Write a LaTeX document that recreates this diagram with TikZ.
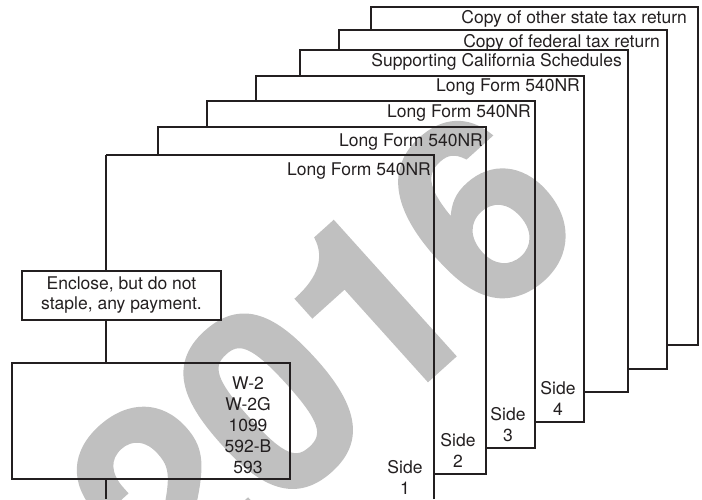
\documentclass[tikz,border=0pt]{standalone}
\usepackage{fontspec}
\setmainfont{TeX Gyre Heros}
\newfontfamily\wmfont[FakeBold=1.2]{TeX Gyre Heros}
\definecolor{ink}{RGB}{35,31,32}
\definecolor{wmgray}{RGB}{192,192,192}
\begin{document}
\begin{tikzpicture}[x=1pt,y=-1pt,
  edge/.style={draw=ink,line width=1.1pt},
  lbl/.style={font=\fontsize{17.5}{21}\selectfont, text=ink, inner sep=0pt},
  title/.style={lbl, anchor=base east},
  sidelbl/.style={lbl, align=center},
  boxnode/.style={draw=ink, line width=1.1pt, inner sep=0pt}
  ]
\useasboundingbox (0,0) rectangle (702,499);
% watermark
\node[rotate=42, text=wmgray, font=\wmfont\fontsize{255}{255}\bfseries\selectfont, inner sep=0pt] (wm) at (322,353) {2016};
% stacked sheets (back to front)
\draw[edge] (371,30) -- (371,7) -- (698,7) -- (698,345) -- (667,345);
\draw[edge] (339,50) -- (339,30) -- (667,30) -- (667,369) -- (628,369);
\draw[edge] (300,76) -- (300,50) -- (628,50) -- (628,392) -- (584,392);
\draw[edge] (256,101) -- (256,76) -- (584,76) -- (584,422) -- (535,422);
\draw[edge] (207,127) -- (207,101) -- (535,101) -- (535,448) -- (486,448);
\draw[edge] (158,155) -- (158,127) -- (486,127) -- (486,474) -- (434,474);
\coordinate (b1l) at (106,155);
\coordinate (b1bot) at (106,499);
\draw[edge] (434,499) -- (434,155) -- (b1l);
% titles
\node[title] (t7) at (687,23) {Copy of other state tax return};
\node[title] (t6) at (660,47) {Copy of federal tax return};
\node[title] (t5) at (622,66) {Supporting California Schedules};
\node[title] (t4) at (580,91) {Long Form 540NR};
\node[title] (t3) at (531,117) {Long Form 540NR};
\node[title] (t2) at (483,146) {Long Form 540NR};
\node[title] (t1) at (431,175) {Long Form 540NR};
% side labels
\node[sidelbl] (s1) at (405,477) {Side\\1};
\node[sidelbl] (s2) at (458,450) {Side\\2};
\node[sidelbl] (s3) at (508,424.5) {Side\\3};
\node[sidelbl] (s4) at (558,398.5) {Side\\4};
% enclose box
\node[boxnode, minimum width=199pt, minimum height=49pt] (encl) at (121.5,295.5) {};
\node[sidelbl, font=\fontsize{17.5}{20}\selectfont] (encltxt) at (encl.center) {Enclose, but do not\\staple, any payment.};
% W box
\node[boxnode, minimum width=278pt, minimum height=116pt] (wbox) at (151,421) {};
\node[sidelbl] (wtxt) at (248,425) {W-2\\W-2G\\1099\\592-B\\593};
% left edge of front sheet, interrupted by the boxes
\draw[edge] (b1l) -- (encl.north -| b1l);
\draw[edge] (encl.south -| b1l) -- (wbox.north -| b1l);
\draw[edge] (wbox.south -| b1l) -- (b1bot);
\end{tikzpicture}
\end{document}
